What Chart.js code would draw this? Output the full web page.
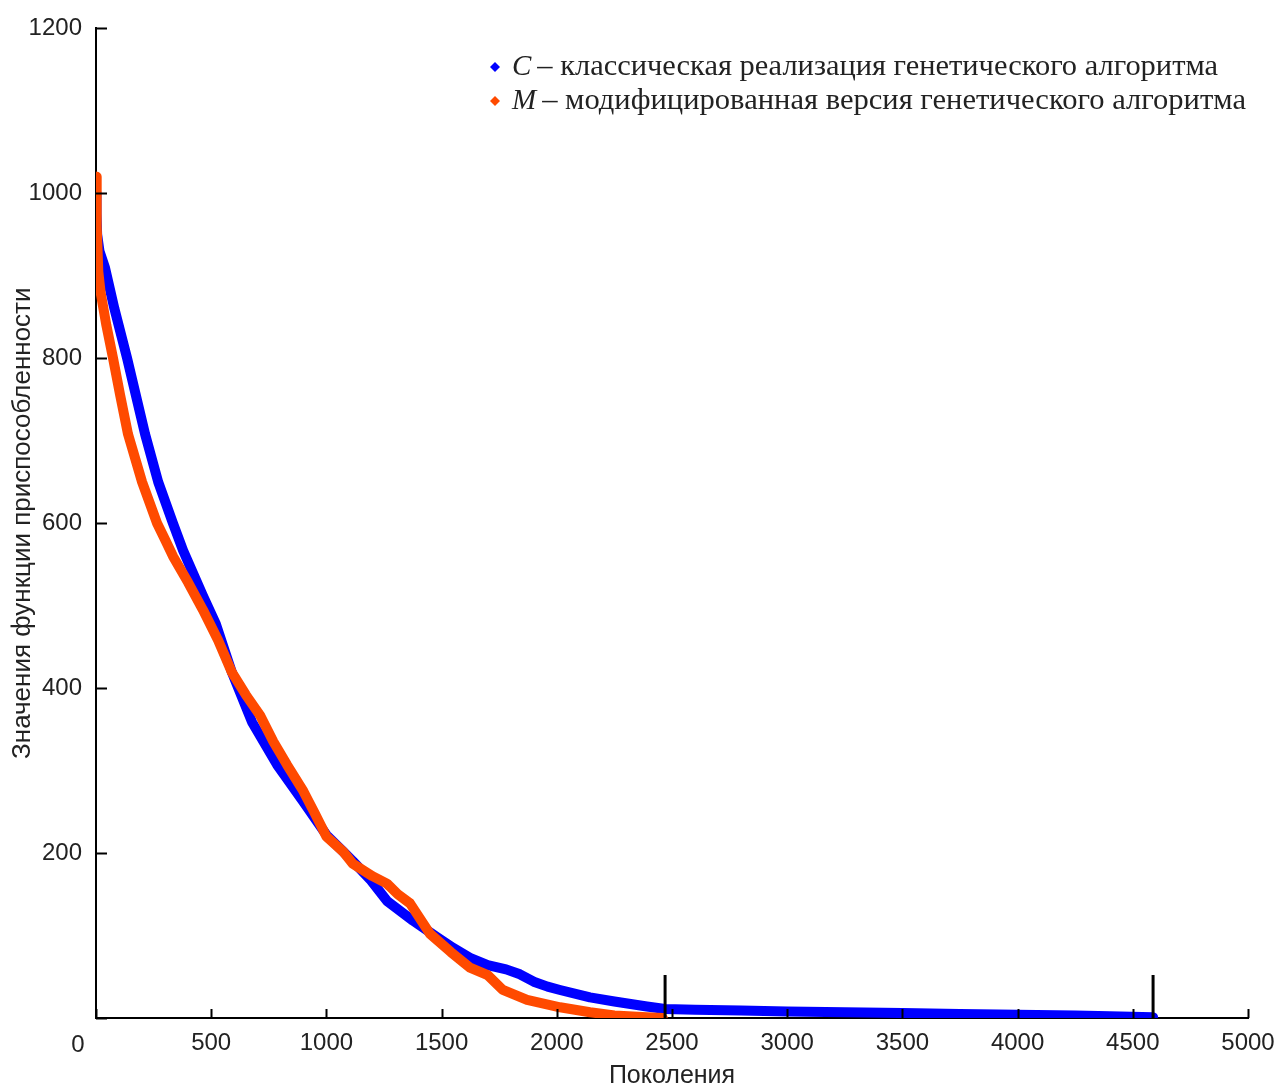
<!DOCTYPE html>
<html lang="ru">
<head>
<meta charset="utf-8">
<title>Поколения</title>
<script src="https://cdn.jsdelivr.net/npm/chart.js@4.4.1/dist/chart.umd.min.js"></script>
<style>
  html, body { margin: 0; padding: 0; background: #fff; }
  canvas { display: block; }
</style>
</head>
<body>
<canvas id="ga-chart" width="1287" height="1091"></canvas>
<script>
// C - классическая реализация
const classicGen = [0, 2, 5, 15, 39, 80, 135, 213, 270, 334, 378, 464, 520, 590, 677, 786, 898, 1000, 1072, 1115, 1190, 1263, 1376, 1480, 1550, 1623, 1700, 1780, 1840, 1900, 1960, 2014, 2144, 2250, 2391, 2470, 2600, 2800, 3000, 3250, 3500, 3750, 4000, 4250, 4400, 4588];
const classicFit = [1000, 975, 950, 930, 910, 860, 800, 708, 650, 600, 567, 512, 478, 419, 359, 307, 263, 222, 202, 190, 168, 142, 118, 98, 85, 73, 64, 59, 53, 44, 38, 34, 25, 20, 14, 11, 10, 9, 8, 7, 6, 5, 4, 3, 2, 1];

// M - модифицированная версия
const modGen = [0, 2, 4, 7, 10, 20, 45, 74, 105, 139, 200, 265, 300, 334, 400, 464, 530, 590, 650, 712, 770, 829, 900, 950, 1000, 1072, 1115, 1200, 1263, 1310, 1363, 1450, 1540, 1623, 1700, 1766, 1871, 2014, 2144, 2250, 2391, 2460];
const modFit = [1020, 990, 960, 930, 905, 880, 840, 800, 755, 708, 650, 600, 580, 560, 528, 495, 458, 419, 392, 367, 335, 307, 275, 248, 220, 202, 187, 172, 163, 150, 139, 102, 80, 61, 52, 34, 22, 13, 7, 3, 1, 0];

// вертикальные отметки окончания
const endGens = [2470, 4588];
const endMarkHeight = 52;

const xTicks = [0, 500, 1000, 1500, 2000, 2500, 3000, 3500, 4000, 4500, 5000];
const yTicks = [0, 200, 400, 600, 800, 1000, 1200];

const legendNames = ['C', 'M'];
const legendTexts = ['– классическая реализация генетического алгоритма', '– модифицированная версия генетического алгоритма'];
const colors = ['#0000ff', '#ff4a00'];

const toPoints = (xs, ys) => xs.map((x, i) => ({ x: x, y: ys[i] }));

const markDatasets = endGens.map(g => ({
    data: [{ x: g, y: 0 }, { x: g, y: endMarkHeight }],
    borderColor: '#000',
    borderWidth: 3,
    pointRadius: 0,
    order: 0
}));

// засечки внутрь, "0" в углу и легенда
const matlabStyle = {
    id: 'matlabStyle',
    afterDraw(chart) {
        const c = chart.ctx;
        const xs = chart.scales.x, ys = chart.scales.y;
        const area = chart.chartArea;
        c.save();
        c.strokeStyle = '#000';
        c.lineWidth = 2;
        c.beginPath();
        xTicks.forEach(t => {
            const px = Math.round(xs.getPixelForValue(t)) + 0.5;
            c.moveTo(px, area.bottom);
            c.lineTo(px, area.bottom - 9);
        });
        yTicks.forEach(t => {
            const py = Math.round(ys.getPixelForValue(t)) + 0.5;
            c.moveTo(area.left, py);
            c.lineTo(area.left + 11, py);
        });
        c.stroke();

        c.fillStyle = '#222';
        c.font = '24px "Liberation Sans", Arial, sans-serif';
        c.textAlign = 'center';
        c.textBaseline = 'middle';
        c.fillText('0', area.left - 18, area.bottom + 27);

        // легенда
        const rowY = [67, 101];
        const ends = [1218, 1246];
        legendNames.forEach((name, i) => {
            const y = rowY[i];
            c.fillStyle = colors[i];
            c.beginPath();
            c.moveTo(495, y - 5);
            c.lineTo(500, y);
            c.lineTo(495, y + 5);
            c.lineTo(490, y);
            c.closePath();
            c.fill();

            c.fillStyle = '#222';
            c.textAlign = 'left';
            c.font = 'italic 29px "Liberation Serif", "DejaVu Serif", serif';
            c.fillText(name, 512, y);
            const nameW = c.measureText(name).width;
            const start = 512 + nameW + 6;
            c.font = '29px "Liberation Serif", "DejaVu Serif", serif';
            const w = c.measureText(legendTexts[i]).width;
            const sx = (ends[i] - start) / w;
            c.save();
            c.translate(start, y);
            c.scale(sx, 1);
            c.fillText(legendTexts[i], 0, 0);
            c.restore();
        });
        c.restore();
    }
};

new Chart(document.getElementById('ga-chart'), {
    type: 'line',
    data: {
        datasets: [
            ...markDatasets,
            {
                label: 'M',
                data: toPoints(modGen, modFit),
                borderColor: colors[1],
                borderWidth: 10,
                pointRadius: 0,
                borderJoinStyle: 'round',
                borderCapStyle: 'round',
                order: 1
            },
            {
                label: 'C',
                data: toPoints(classicGen, classicFit),
                borderColor: colors[0],
                borderWidth: 10,
                pointRadius: 0,
                borderJoinStyle: 'round',
                borderCapStyle: 'round',
                order: 2
            }
        ]
    },
    options: {
        responsive: false,
        animation: false,
        layout: { padding: { top: 22, right: 39, left: 0, bottom: 0 } },
        plugins: {
            legend: { display: false },
            tooltip: { enabled: false }
        },
        scales: {
            x: {
                type: 'linear',
                min: 0,
                max: 5000,
                afterFit: s => { s.height = 73; },
                afterBuildTicks: s => { s.ticks = xTicks.map(v => ({ value: v })); },
                grid: { display: false, drawTicks: false },
                border: { display: true, color: '#000', width: 2 },
                ticks: {
                    padding: 11,
                    color: '#222',
                    font: { family: '"Liberation Sans", Arial, sans-serif', size: 24 },
                    maxRotation: 0,
                    callback: v => v === 0 ? '' : v
                },
                title: {
                    display: true,
                    text: 'Поколения',
                    color: '#222',
                    padding: 0,
                    font: { family: '"Liberation Sans", Arial, sans-serif', size: 25 }
                }
            },
            y: {
                min: 0,
                max: 1200,
                afterFit: s => { s.width = 96; },
                afterBuildTicks: s => { s.ticks = yTicks.map(v => ({ value: v })); },
                grid: { display: false, drawTicks: false },
                border: { display: true, color: '#000', width: 2 },
                ticks: {
                    padding: 14,
                    color: '#222',
                    font: { family: '"Liberation Sans", Arial, sans-serif', size: 24 },
                    callback: v => v === 0 ? '' : v
                },
                title: {
                    display: true,
                    text: 'Значения функции приспособленности',
                    color: '#222',
                    padding: { top: 7, bottom: 0 },
                    font: { family: '"Liberation Sans", Arial, sans-serif', size: 26 }
                }
            }
        }
    },
    plugins: [matlabStyle]
});
</script>
</body>
</html>
